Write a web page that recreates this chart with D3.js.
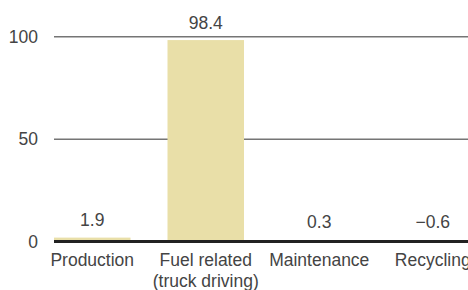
<!DOCTYPE html>
<html><head><meta charset="utf-8">
<script src="https://cdn.jsdelivr.net/npm/d3@7"></script>
<style>html,body{margin:0;padding:0;background:#fff;overflow:hidden}</style>
</head><body>
<svg id="c" width="468" height="290"></svg>
<script>
const categories = [["Production"], ["Fuel related", "(truck driving)"], ["Maintenance"], ["Recycling"]];
const values = [1.9, 98.4, 0.3, -0.6];
const valueLabels = ["1.9", "98.4", "0.3", "\u22120.6"];
const yTicks = [0, 50, 100];

const svg = d3.select("#c");
const font = "'Liberation Sans', Arial, sans-serif";
const textColor = "#444";
const left = 54, right = 471;

const x = d3.scaleBand().domain(d3.range(categories.length)).range([left, right]).paddingInner(0.326).paddingOuter(0);
const y = d3.scaleLinear().domain([0, 100]).range([241.5, 36.8]);

// gridlines
svg.append("g").selectAll("line").data(yTicks.filter(t => t !== 0)).join("line")
  .attr("x1", left).attr("x2", 468)
  .attr("y1", d => y(d)).attr("y2", d => y(d))
  .attr("stroke", "#757575").attr("stroke-width", 1.5);

// y tick labels
svg.append("g").selectAll("text").data(yTicks).join("text")
  .attr("x", 38).attr("y", d => y(d)).attr("dy", "0.35em")
  .attr("text-anchor", "end")
  .attr("font-family", font).attr("font-size", 17.5).attr("fill", textColor)
  .text(d => d);

// bars
svg.append("g").selectAll("rect").data(values).join("rect")
  .attr("x", (d, i) => x(i)).attr("width", x.bandwidth())
  .attr("y", d => y(Math.max(d, 0)))
  .attr("height", d => Math.abs(y(d) - y(0)))
  .attr("fill", "#e9dfa8");

// zero line
svg.append("line").attr("x1", left).attr("x2", 468)
  .attr("y1", y(0)).attr("y2", y(0))
  .attr("stroke", "#222").attr("stroke-width", 3);

// value labels
svg.append("g").selectAll("text").data(values).join("text")
  .attr("x", (d, i) => x(i) + x.bandwidth() / 2)
  .attr("y", d => Math.min(y(Math.max(d, 0)) - 11.5, y(0) - 13.5))
  .attr("text-anchor", "middle")
  .attr("font-family", font).attr("font-size", 17.5).attr("fill", textColor)
  .text((d, i) => valueLabels[i]);

// category labels
const cg = svg.append("g").selectAll("text").data(categories).join("text")
  .attr("x", (d, i) => x(i) + x.bandwidth() / 2)
  .attr("y", 266)
  .attr("text-anchor", "middle")
  .attr("font-family", font).attr("font-size", 17.5).attr("fill", textColor);
cg.selectAll("tspan").data(d => d).join("tspan")
  .attr("x", function() { return d3.select(this.parentNode).attr("x"); })
  .attr("dy", (d, j) => j === 0 ? 0 : 21)
  .text(d => d);
</script>
</body></html>
